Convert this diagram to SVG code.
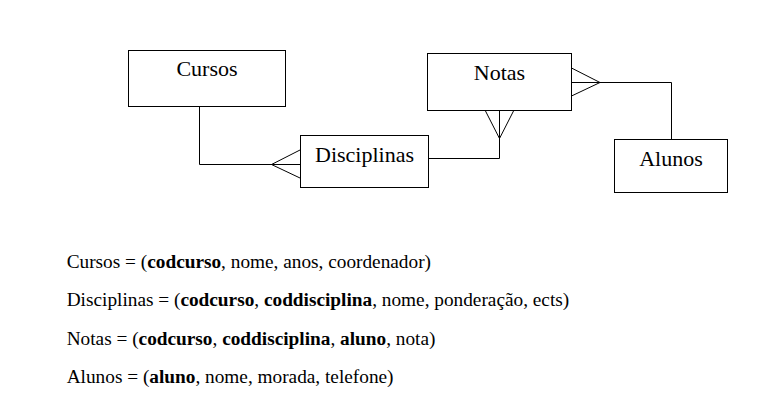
<svg xmlns="http://www.w3.org/2000/svg" width="769" height="411" viewBox="0 0 769 411">
<style>
.box{fill:#fff;stroke:#000;stroke-width:1}
.lbl{font-family:"Liberation Serif","Times New Roman",serif;font-size:22px;fill:#000;text-anchor:middle}
.ln{fill:none;stroke:#000;stroke-width:1}
.t{font-family:"Liberation Serif","Times New Roman",serif;font-size:19.3px;fill:#000}
.b{font-weight:bold}
</style>
<rect width="769" height="411" fill="#fff"/>
<g id="connectors">
<polyline class="ln" points="199.5,106.5 199.5,164.5 300,164.5"/>
<polyline class="ln" points="300,150 271.5,164.5 300,178"/>
<polyline class="ln" points="428,158.5 499.5,158.5 499.5,111"/>
<polyline class="ln" points="485.5,111 499.5,138.5 513.5,111"/>
<polyline class="ln" points="571.5,82.5 671.5,82.5 671.5,139"/>
<polyline class="ln" points="571.5,68 600,82.5 571.5,96"/>
</g>
<g id="cursos">
<rect class="box" x="128.5" y="50.5" width="157" height="56"/>
<text class="lbl" x="207" y="76">Cursos</text>
</g>
<g id="disciplinas">
<rect class="box" x="300.5" y="135.5" width="128" height="52"/>
<text class="lbl" x="364.5" y="161.5">Disciplinas</text>
</g>
<g id="notas">
<rect class="box" x="427.5" y="53.5" width="144" height="57"/>
<text class="lbl" x="499.5" y="80">Notas</text>
</g>
<g id="alunos">
<rect class="box" x="614.5" y="139.5" width="113" height="53"/>
<text class="lbl" x="671" y="165.5">Alunos</text>
</g>
<g id="text">
<text class="t" x="66.7" y="268.3">Cursos = (<tspan class="b">codcurso</tspan>, nome, anos, coordenador)</text>
<text class="t" x="66.7" y="306.3">Disciplinas = (<tspan class="b">codcurso</tspan>, <tspan class="b">coddisciplina</tspan>, nome, ponderação, ects)</text>
<text class="t" x="66.7" y="344.5">Notas = (<tspan class="b">codcurso</tspan>, <tspan class="b">coddisciplina</tspan>, <tspan class="b">aluno</tspan>, nota)</text>
<text class="t" x="66.7" y="382.7">Alunos = (<tspan class="b">aluno</tspan>, nome, morada, telefone)</text>
</g>
</svg>
